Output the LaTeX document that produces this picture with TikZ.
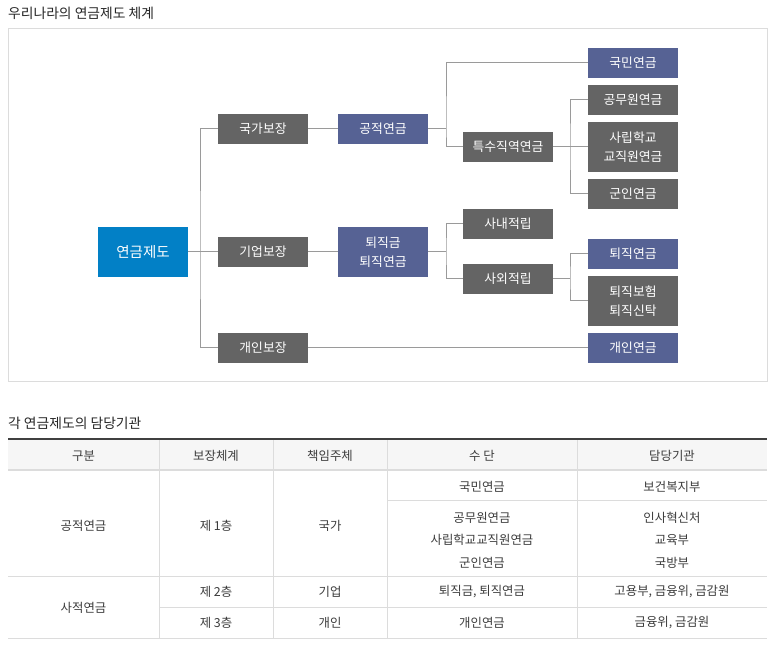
\documentclass[tikz,border=0pt]{standalone}
\usepackage{fontspec}
\setmainfont{Noto Sans CJK KR}
\definecolor{boxgray}{HTML}{646464}
\definecolor{boxblue}{HTML}{566294}
\definecolor{rootblue}{HTML}{0280C6}
\definecolor{linegray}{HTML}{9A9A9A}
\definecolor{framegray}{HTML}{DCDCDC}
\definecolor{txt}{HTML}{3C3C3C}
\definecolor{hdrbg}{HTML}{F6F6F6}
\tikzset{
  gbox/.style={fill=boxgray, text=white, minimum width=90pt, minimum height=30pt, inner sep=0pt, align=center, font=\fontsize{12.8}{19}\selectfont},
  bbox/.style={gbox, fill=boxblue},
  rootbox/.style={gbox, fill=rootblue, minimum height=50pt, font=\fontsize{14.5}{18}\selectfont},
  conn/.style={draw=linegray, line width=1pt},
  cell/.style={text=txt, inner sep=0pt, align=center, font=\fontsize{12.4}{22.5}\selectfont},
  ttl/.style={text=black!85, inner sep=0pt, anchor=west, font=\fontsize{13.8}{16}\selectfont},
  grid/.style={draw=framegray, line width=1pt}
}
\begin{document}
\begin{tikzpicture}[x=1pt,y=-1pt]
\useasboundingbox (0,0) rectangle (780,652);
\fill[white] (0,0) rectangle (780,652);
% ---------- top diagram ----------
\node[ttl] (title1) at (8,13) {우리나라의 연금제도 체계};
\draw[draw=framegray, line width=1pt] (8.5,28.5) rectangle (767,382);

\node[rootbox] (root) at (143,252) {연금제도};
\node[gbox] (nat) at (263,129) {국가보장};
\node[gbox] (corp) at (263,252) {기업보장};
\node[gbox] (indiv) at (263,348) {개인보장};
\node[bbox] (gong) at (383,129) {공적연금};
\node[bbox, minimum height=50pt] (toe) at (383,252) {퇴직금\\퇴직연금};
\node[bbox] (kukmin) at (633,63) {국민연금};
\node[gbox] (teuksu) at (508,147) {특수직역연금};
\node[gbox] (gongmu) at (633,100) {공무원연금};
\node[gbox, minimum height=50pt] (sarip) at (633,147) {사립학교\\교직원연금};
\node[gbox] (gunin) at (633,194) {군인연금};
\node[gbox] (sanae) at (508,224) {사내적립};
\node[gbox] (saoe) at (508,279) {사외적립};
\node[bbox] (toeyeon) at (633,254) {퇴직연금};
\node[gbox, minimum height=50pt] (toebo) at (633,301) {퇴직보험\\퇴직신탁};
\node[bbox] (gaein) at (633,348) {개인연금};

\coordinate (j1) at (200,252);
\coordinate (j2) at (446,129);
\coordinate (j3) at (570,147);
\coordinate (j4) at (446,252);
\coordinate (j5) at (570,279);

\draw[conn] (root.east) -- (corp.west);
\draw[conn] (nat.west) -| (j1) |- (indiv.west);
\draw[conn] (nat.east) -- (gong.west);
\draw[conn] (corp.east) -- (toe.west);
\draw[conn] (indiv.east) -- (gaein.west);
\draw[conn] (gong.east) -- (j2);
\draw[conn] (kukmin.west) -| (j2) |- (teuksu.west);
\draw[conn] (teuksu.east) -- (sarip.west);
\draw[conn] (gongmu.west) -| (j3) |- (gunin.west);
\draw[conn] (toe.east) -- (j4);
\draw[conn] (sanae.west) -| (j4) |- (saoe.west);
\draw[conn] (saoe.east) -- (j5);
\draw[conn] (toeyeon.west) -| (j5) |- (toebo.west);

% ---------- table ----------
\node[ttl] (title2) at (8,423) {각 연금제도의 담당기관};
\fill[hdrbg] (8,439) rectangle (767,469);
\draw[grid] (159,439) -- (159,638);
\draw[grid] (273,439) -- (273,638);
\draw[grid] (387,439) -- (387,638);
\draw[grid] (577,439) -- (577,638);
\draw[draw=framegray, line width=2pt] (8,470) -- (767,470);
\draw[draw=black!75, line width=1.5pt] (8,439) -- (767,439);
\draw[grid] (387,501) -- (767,501);
\draw[grid] (8,576) -- (767,576);
\draw[grid] (159,607) -- (767,607);
\draw[grid] (8,638) -- (767,638);

\node[cell] (h1) at (83.5,456) {구분};
\node[cell] (h2) at (216,456) {보장체계};
\node[cell] (h3) at (330,456) {책임주체};
\node[cell] (h4) at (482,456) {수 단};
\node[cell] (h5) at (672,456) {담당기관};

\node[cell] (a1) at (83.5,526) {공적연금};
\node[cell] (a2) at (216,526) {제 1층};
\node[cell] (a3) at (330,526) {국가};
\node[cell] (a4) at (482,487) {국민연금};
\node[cell] (a5) at (672,487) {보건복지부};
\node[cell] (b4) at (482,540) {공무원연금\\사립학교교직원연금\\군인연금};
\node[cell] (b5) at (672,540) {인사혁신처\\교육부\\국방부};

\node[cell] (c1) at (83.5,608) {사적연금};
\node[cell] (c2) at (216,592) {제 2층};
\node[cell] (c3) at (330,592) {기업};
\node[cell] (c4) at (482,592) {퇴직금, 퇴직연금};
\node[cell] (c5) at (672,592) {고용부, 금융위, 금감원};
\node[cell] (d2) at (216,623) {제 3층};
\node[cell] (d3) at (330,623) {개인};
\node[cell] (d4) at (482,623) {개인연금};
\node[cell] (d5) at (672,623) {금융위, 금감원};
\end{tikzpicture}
\end{document}
